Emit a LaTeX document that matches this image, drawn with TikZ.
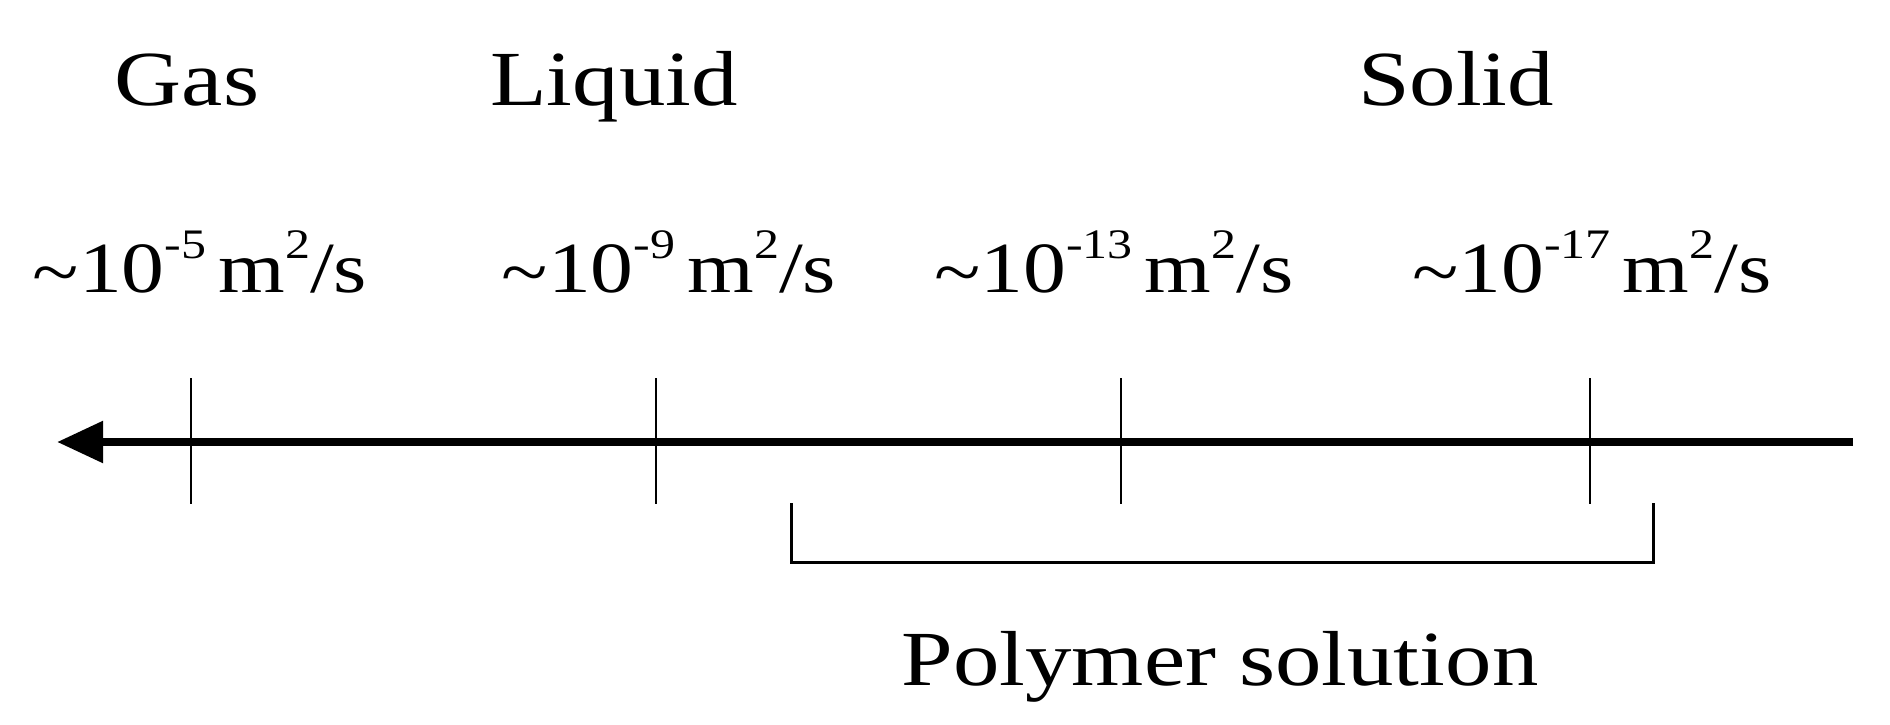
\documentclass[tikz,border=0pt]{standalone}
\usepackage{fontspec}
\setmainfont{Liberation Serif}[FakeStretch=1.19]
\usetikzlibrary{arrows.meta}
\newcommand{\upx}[1]{\raisebox{34pt}{\fontsize{42}{42}\selectfont #1}}
\newcommand{\rateval}[1]{\raisebox{-4pt}{\char`\~}10\upx{-#1}\,m\upx{2}/s}
\begin{document}
\begin{tikzpicture}[x=1pt,y=-1pt,
  phase/.style={font=\fontsize{78}{90}\selectfont, anchor=base, inner sep=0pt},
  rate/.style={font=\fontsize{72}{84}\selectfont, anchor=base, inner sep=0pt},
  axisline/.style={line width=8.5pt, -{Triangle[length=46pt,width=40pt]}},
  tickline/.style={line width=2.8pt},
  bracketline/.style={line width=3pt}]
\useasboundingbox (0,0) rectangle (1890,725);
% labels
\node[phase] (gas) at (187,106) {Gas};
\node[phase] (liquid) at (614,106) {Liquid};
\node[phase] (solid) at (1456,106) {Solid};
\node[rate] (r1) at (200,292) {\rateval{5}};
\node[rate] (r2) at (669,292) {\rateval{9}};
\node[rate] (r3) at (1114,292) {\rateval{13}};
\node[rate] (r4) at (1592,292) {\rateval{17}};
\node[phase] (poly) at (1220,685) {Polymer solution};
% axis
\coordinate (L) at (57,442);
\coordinate (R) at (1853,442);
\draw[axisline] (R) -- (L);
% ticks
\coordinate (t1a) at (191,378); \coordinate (t1b) at (191,504);
\coordinate (t2a) at (656,378); \coordinate (t2b) at (656,504);
\coordinate (t3a) at (1121,378); \coordinate (t3b) at (1121,504);
\coordinate (t4a) at (1590,378); \coordinate (t4b) at (1590,504);
\draw[tickline] (t1a) -- (t1b);
\draw[tickline] (t2a) -- (t2b);
\draw[tickline] (t3a) -- (t3b);
\draw[tickline] (t4a) -- (t4b);
% bracket
\coordinate (b1) at (791,503);
\coordinate (b2) at (791,562);
\coordinate (b3) at (1653,562);
\coordinate (b4) at (1653,503);
\draw[bracketline] (b1) -- (b2) -- (b3) -- (b4);
\end{tikzpicture}
\end{document}
